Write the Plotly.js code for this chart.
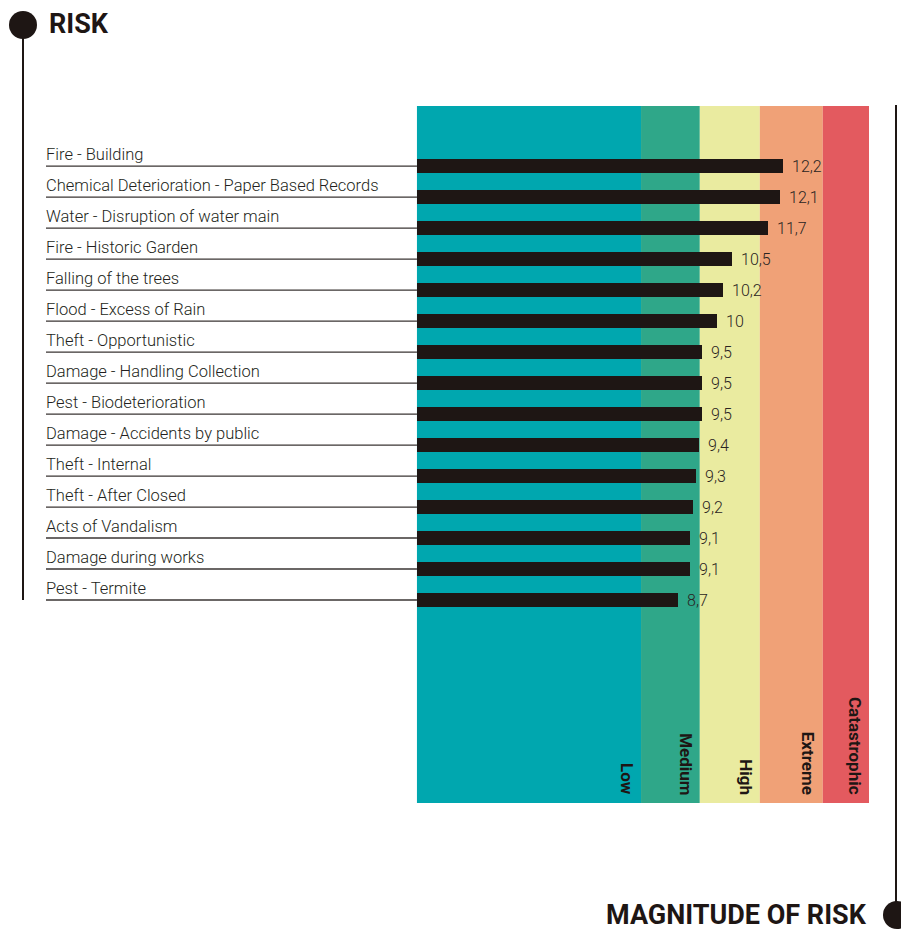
<!DOCTYPE html>
<html>
<head>
<meta charset="utf-8">
<script src="https://cdn.plot.ly/plotly-3.0.1.min.js"></script>
<style>html,body{margin:0;padding:0;background:#fff;}#chart{width:901px;height:930px;}</style>
</head>
<body>
<div id="chart"></div>
<script>
// ---- data ----
const risks = [
  "Fire - Building",
  "Chemical Deterioration - Paper Based Records",
  "Water - Disruption of water main",
  "Fire - Historic Garden",
  "Falling of the trees",
  "Flood - Excess of Rain",
  "Theft - Opportunistic",
  "Damage - Handling Collection",
  "Pest - Biodeterioration",
  "Damage - Accidents by public",
  "Theft - Internal",
  "Theft - After Closed",
  "Acts of Vandalism",
  "Damage during works",
  "Pest - Termite"
];
const magnitude = [12.2, 12.1, 11.7, 10.5, 10.2, 10, 9.5, 9.5, 9.5, 9.4, 9.3, 9.2, 9.1, 9.1, 8.7];
const bandNames = ["Low", "Medium", "High", "Extreme", "Catastrophic"];
const bandEdges = [0, 7.47, 9.43, 11.43, 13.53, 15.07];
const bandColors = ["#00A7AF", "#2FA789", "#EAEBA0", "#F0A177", "#E35A5F"];

// ---- layout helpers ----
const W = 901, H = 930;
const M = {l: 46, r: W - 869, t: 106, b: H - 803};
const pw = W - M.l - M.r, ph = H - M.t - M.b;
const px = x => (x - M.l) / pw;          // pixel -> paper x
const py = y => (H - M.b - y) / ph;      // pixel -> paper y
const xMin = -(417 - 46) / 30;
const xMax = bandEdges[bandEdges.length - 1];
const ink = "#1E1614";
const fontTxt = "Roboto, 'Noto Sans', sans-serif";

// leader lines under labels (from left edge to bar start)
const lx = [], ly = [];
risks.forEach(r => { lx.push(xMin, 0, null); ly.push(r, r, null); });

const traces = [
  {
    type: "scatter", mode: "lines", x: lx, y: ly,
    line: {color: "#3A3433", width: 1.3}, hoverinfo: "skip", showlegend: false
  },
  {
    type: "bar", orientation: "h", x: magnitude, y: risks,
    width: 0.43, marker: {color: ink, line: {width: 0}},
    hoverinfo: "x+y", showlegend: false
  }
];

const shapes = [];
bandNames.forEach((b, i) => {
  shapes.push({type: "rect", xref: "x", yref: "paper", x0: bandEdges[i], x1: bandEdges[i + 1],
    y0: 0, y1: 1, fillcolor: bandColors[i], line: {width: 0}, layer: "below"});
});
// decorative axis lines and dots
shapes.push({type: "line", xref: "paper", yref: "paper", x0: px(23), x1: px(23), y0: py(30), y1: py(600),
  line: {color: ink, width: 2}});
shapes.push({type: "circle", xref: "paper", yref: "paper", x0: px(9), x1: px(37), y0: py(11), y1: py(39),
  fillcolor: ink, line: {width: 0}});
shapes.push({type: "line", xref: "paper", yref: "paper", x0: px(896), x1: px(896), y0: py(105), y1: py(910),
  line: {color: ink, width: 2}});
shapes.push({type: "circle", xref: "paper", yref: "paper", x0: px(883), x1: px(911), y0: py(901), y1: py(929),
  fillcolor: ink, line: {width: 0}});

const annotations = [];
risks.forEach(r => {
  annotations.push({x: xMin, y: r, xref: "x", yref: "y", text: r, showarrow: false,
    xanchor: "left", yanchor: "bottom", yshift: 0, xshift: -2,
    font: {family: fontTxt, size: 16.5, weight: 300, color: "#231F20"}});
});
magnitude.forEach((v, i) => {
  annotations.push({x: v, y: risks[i], xref: "x", yref: "y", text: String(v).replace(".", ","),
    showarrow: false, xanchor: "left", yanchor: "middle", xshift: 7,
    font: {family: fontTxt, size: 16, weight: 300, color: "#2A2422"}});
});
bandNames.forEach((b, i) => {
  annotations.push({x: bandEdges[i + 1], y: 0, xref: "x", yref: "paper", text: "<b>" + b + "</b>",
    showarrow: false, textangle: 90, xanchor: "center", yanchor: "bottom", xshift: -14, yshift: 6,
    font: {family: fontTxt, size: 17, color: ink}});
});
annotations.push({x: px(47), y: py(24), xref: "paper", yref: "paper", text: "<b>RISK</b>",
  showarrow: false, xanchor: "left", yanchor: "middle",
  font: {family: fontTxt, size: 27, color: ink}});
annotations.push({x: px(869), y: py(915), xref: "paper", yref: "paper", text: "<b>MAGNITUDE OF RISK</b>",
  showarrow: false, xanchor: "right", yanchor: "middle",
  font: {family: fontTxt, size: 27, color: ink}});

const layout = {
  width: W, height: H,
  margin: M,
  paper_bgcolor: "#fff", plot_bgcolor: "rgba(0,0,0,0)",
  showlegend: false,
  xaxis: {range: [xMin, xMax], showgrid: false, zeroline: false, showticklabels: false,
    showline: false, ticks: "", fixedrange: true},
  yaxis: {type: "category", range: [20.55, -1.94], autorange: false, showgrid: false, zeroline: false,
    showticklabels: false, showline: false, ticks: "", fixedrange: true},
  bargap: 0,
  shapes: shapes,
  annotations: annotations
};

Plotly.newPlot("chart", traces, layout, {displayModeBar: false, staticPlot: true});
</script>
</body>
</html>
